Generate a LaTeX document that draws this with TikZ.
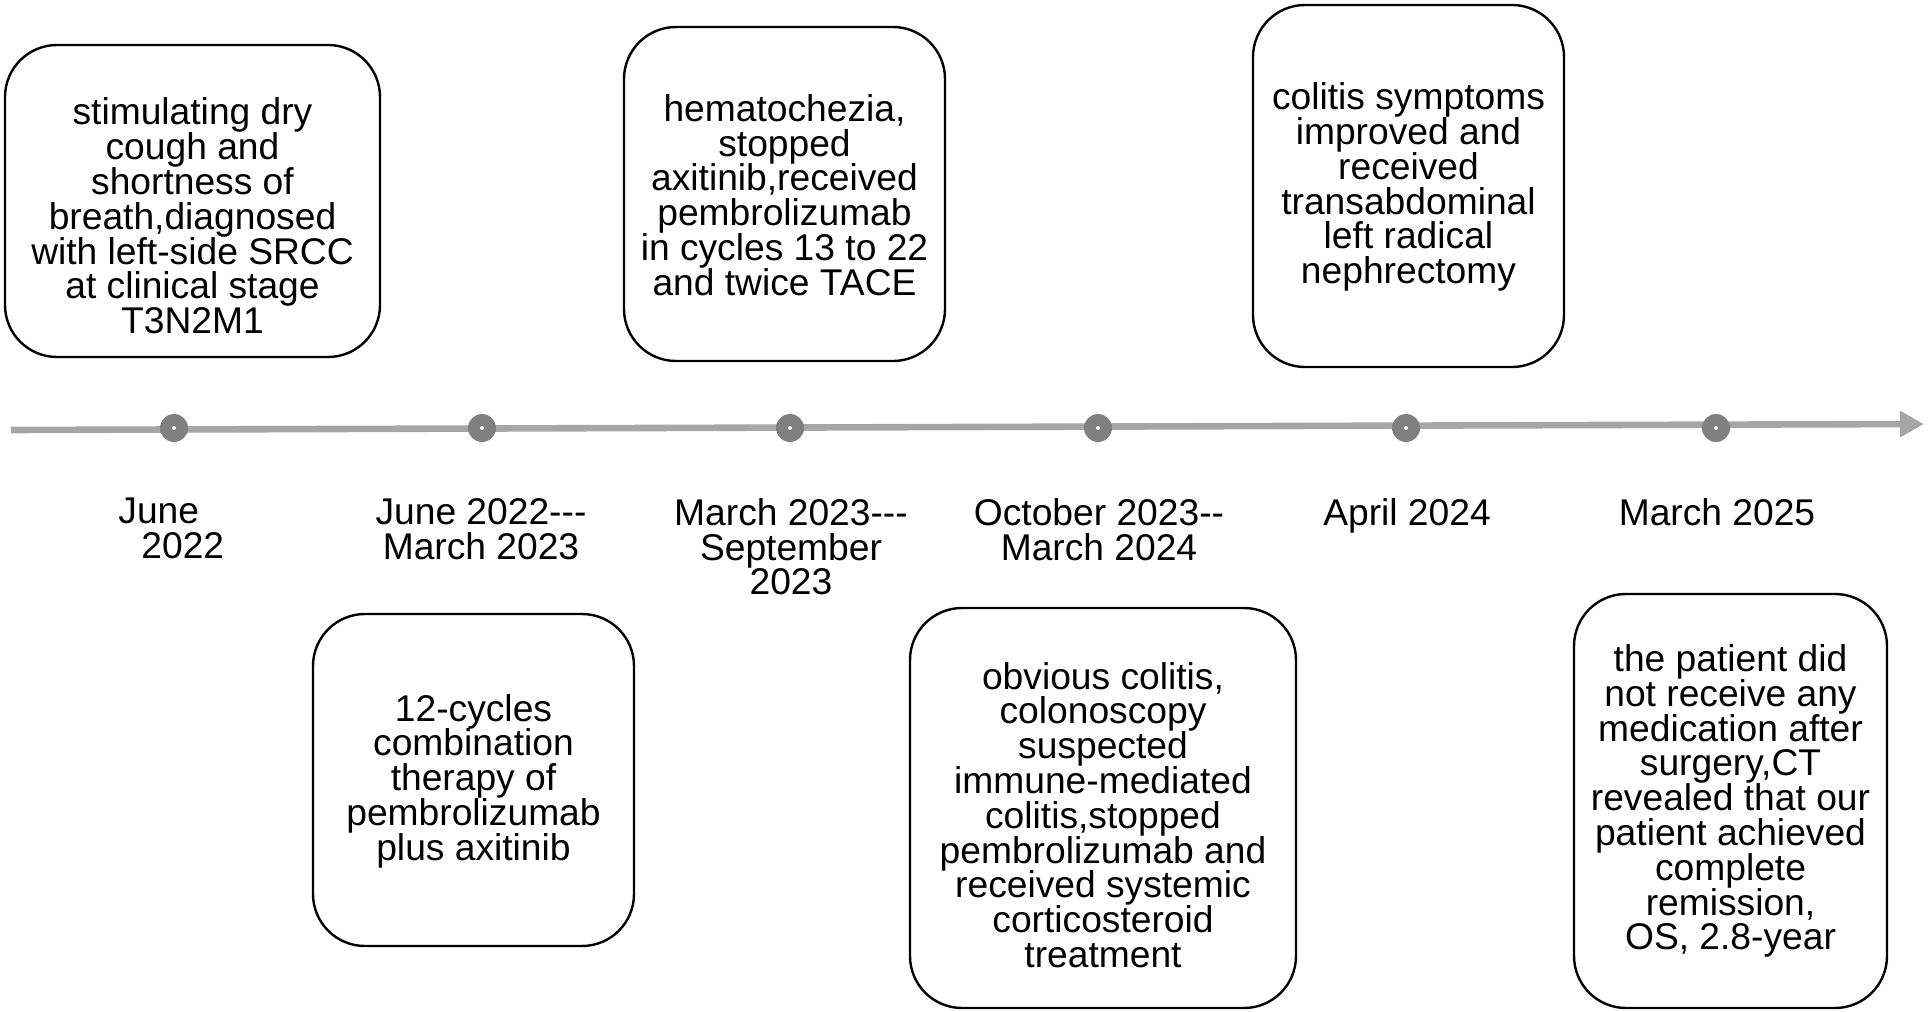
\documentclass[tikz,border=0pt]{standalone}
\usepackage{fontspec}
\setmainfont{Liberation Sans}
\usetikzlibrary{arrows.meta}
\definecolor{tlgray}{HTML}{A6A6A6}
\definecolor{dotgray}{HTML}{7F7F7F}
\lineskiplimit=-100pt
\tikzset{
  txtfont/.style={font=\fontsize{18.6pt}{17.4pt}\selectfont},
  evbox/.style={draw=black, line width=1.2pt, rounded corners=26pt, fill=white, inner sep=0pt},
  evtext/.style={txtfont, align=center, inner sep=0pt},
  datelbl/.style={txtfont, align=center, inner sep=0pt, anchor=north},
  tldot/.style={circle, fill=dotgray, minimum size=14pt, inner sep=0pt,
    path picture={\fill[white] (path picture bounding box.center) circle (1pt);}},
  tline/.style={draw=tlgray, line width=3.3pt, -{Triangle[length=12pt,width=12.5pt]}}
}
\begin{document}
\begin{tikzpicture}[x=0.5pt,y=-0.5pt]
\useasboundingbox (0,0) rectangle (1928,1012);
% timeline
\coordinate (ls) at (11,430);
\coordinate (le) at (1924,424);
\draw[tline] (ls) -- (le);
\node[tldot] (d1) at (174,428) {};
\node[tldot] (d2) at (482,428) {};
\node[tldot] (d3) at (790,428) {};
\node[tldot] (d4) at (1098,428) {};
\node[tldot] (d5) at (1406,428) {};
\node[tldot] (d6) at (1716,428) {};
% date labels
\node[datelbl, anchor=north west, align=left] (l1) at (118,498) {June\\{}\hspace*{11.5pt}2022};
\node[datelbl] (l2) at (481,498) {June 2022-{}-{}-\\March 2023};
\node[datelbl] (l3) at (791,498) {March 2023-{}-{}-\\September\\2023};
\node[datelbl] (l4) at (1099,498) {October 2023-{}-\\March 2024};
\node[datelbl] (l5) at (1407,498) {April 2024};
\node[datelbl] (l6) at (1717,498) {March 2025};
% event boxes
\node[evbox, minimum width=187.5pt, minimum height=156pt] (b1) at (192.5,201) {};
\node[evtext] (t1) at ([yshift=-7.5pt]b1.center) {stimulating dry\\cough and\\shortness of\\breath,diagnosed\\with left-side SRCC\\at clinical stage\\T3N2M1};
\node[evbox, minimum width=160.5pt, minimum height=166pt] (b2) at (473.5,780) {};
\node[evtext] (t2) at ([yshift=-0.5pt]b2.center) {12-cycles\\combination\\therapy of\\pembrolizumab\\plus axitinib};
\node[evbox, minimum width=160.5pt, minimum height=167pt] (b3) at (784.5,194) {};
\node[evtext] (t3) at ([yshift=-0.5pt]b3.center) {hematochezia,\\stopped\\axitinib,received\\pembrolizumab\\in cycles 13 to 22\\and twice TACE};
\node[evbox, minimum width=193pt, minimum height=200pt] (b4) at (1103,808) {};
\node[evtext] (t4) at ([yshift=-3.5pt]b4.center) {obvious colitis,\\colonoscopy\\suspected\\immune-mediated\\colitis,stopped\\pembrolizumab and\\received systemic\\corticosteroid\\treatment};
\node[evbox, minimum width=155.5pt, minimum height=181pt] (b5) at (1408.5,186) {};
\node[evtext] (t5) at ([yshift=-0.5pt]b5.center) {colitis symptoms\\improved and\\received\\transabdominal\\left radical\\nephrectomy};
\node[evbox, minimum width=156.5pt, minimum height=207pt] (b6) at (1730.5,801) {};
\node[evtext] (t6) at (b6.center) {the patient did\\not receive any\\medication after\\surgery,CT\\revealed that our\\patient achieved\\complete\\remission,\\OS, 2.8-year};
\end{tikzpicture}
\end{document}
